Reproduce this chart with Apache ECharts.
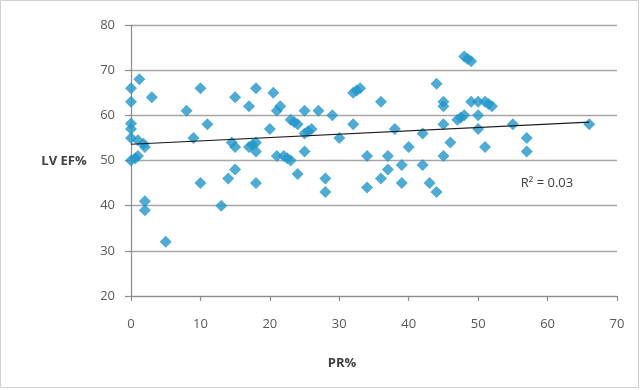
<!DOCTYPE html>
<html><head><meta charset="utf-8">
<script src="https://cdn.jsdelivr.net/npm/echarts@6/dist/echarts.min.js"></script>
<style>html,body{margin:0;padding:0;background:#fff}#c{width:640px;height:390px}</style>
</head><body><div id="c"></div>
<script>
const prValues = [0,0,1.2,0,0,0,0,1,1.8,2,1,0.6,3,2,2,5,8,9,10,10,11,13,14,14.5,15,15,15,17,17,17.5,18,18,18,18,20,20.5,21,21.5,21,22,22.5,23,23,23.5,24,24,25,25,25.5,26,25,27,28,28,29,30,32,32.5,33,32,34,34,36,36,37,37,38,39,39,40,42,42,43,44,44,45,45,45,45,46,47,47.5,48,48,48.5,49,49,50,51,50,50,51,51.5,52,55,57,57,66];
const efValues = [66,63,68,58.2,57,55,50,54.5,53.7,53,51,50.5,64,41,39,32,61,55,66,45,58,40,46,54,53,64,48,62,53,53.5,66,54,52,45,57,65,61,62,51,51,50.5,50,59,58.5,58,47,61,56,56.5,57,52,61,46,43,60,55,65,65.5,66,58,51,44,63,46,51,48,57,49,45,53,56,49,45,67,43,63,62,58,51,54,59,59.5,60,73,72.5,72,63,63,63,60,57,53,62.5,62,58,55,52,58];
const trendPR = [0, 66];
const trendEF = [53.6, 58.5];
const xTicks = [0,10,20,30,40,50,60,70];
const yTicks = [20,30,40,50,60,70,80];

const pts = prValues.map((x,i)=>[x, efValues[i]]);
const trend = trendPR.map((x,i)=>[x, trendEF[i]]);
const font = "'Open Sans', 'Liberation Sans', sans-serif";
const chart = echarts.init(document.getElementById('c'), null, {renderer:'canvas'});
chart.setOption({
  animation:false,
  backgroundColor:'#fff',
  grid:{left:131,right:23,top:25,bottom:94},
  xAxis:{type:'value',min:xTicks[0],max:xTicks[xTicks.length-1],interval:10,
    axisLine:{show:true,lineStyle:{color:'#8c8c8c',width:1.2}},
    axisTick:{show:true,length:5,lineStyle:{color:'#8c8c8c',width:1.2}},
    axisLabel:{color:'#595959',fontSize:13,fontFamily:font,margin:22},
    splitLine:{show:false}},
  yAxis:{type:'value',min:yTicks[0],max:yTicks[yTicks.length-1],interval:10,
    axisLine:{show:true,lineStyle:{color:'#8c8c8c',width:1.2}},
    axisTick:{show:true,length:6,lineStyle:{color:'#8c8c8c',width:1.2}},
    axisLabel:{color:'#595959',fontSize:13,fontFamily:font,margin:16},
    splitLine:{show:true,lineStyle:{color:'#a6a6a6',width:1.3}}},
  series:[
    {type:'scatter',data:pts,symbol:'diamond',symbolSize:12,
      itemStyle:{color:'#2196c9'},z:3},
    {type:'line',data:trend,symbol:'none',lineStyle:{color:'#1a1a1a',width:1.2},z:4}
  ],
  graphic:[
    {type:'rect',shape:{x:0.5,y:0.5,width:638,height:387},style:{fill:'none',stroke:'#d0d0d0',lineWidth:1}},
    {type:'text',x:64,y:161,style:{text:'LV EF%',font:'bold 13px '+font,fill:'#404040',align:'center',verticalAlign:'middle'}},
    {type:'text',x:342,y:363,style:{text:'PR%',font:'bold 13px '+font,fill:'#404040',align:'center',verticalAlign:'middle'}},
    {type:'text',x:547,y:183,style:{text:'R² = 0.03',font:'13px '+font,fill:'#404040',align:'center',verticalAlign:'middle'}}
  ]
});
</script></body></html>
